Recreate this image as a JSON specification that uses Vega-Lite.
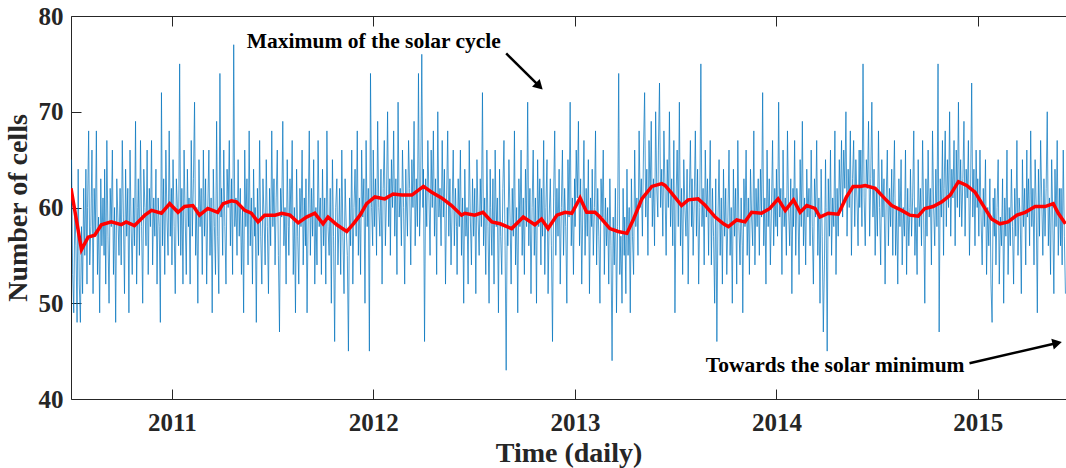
{
"$schema":"https://vega.github.io/schema/vega-lite/v6.json",
"width":995,"height":383,
"autosize":"none",
"padding":{"left":71,"top":16,"right":0,"bottom":69},
"background":"white",
"config":{
"view":{"stroke":"#262626","strokeWidth":1},
"axis":{"grid":false,"domain":false,"tickColor":"#262626","tickWidth":1,"tickSize":-10,"labelFont":"Liberation Serif","labelFontWeight":"bold","labelFontSize":25,"labelColor":"#262626","titleFont":"Liberation Serif","titleFontWeight":"bold","titleFontSize":28,"titleColor":"#262626"}
},
"resolve":{"axis":{"x":"independent","y":"independent"}},
"layer":[
{
"data":{"values":[
{"d":"2010-07-03","v":65},{"d":"2010-07-05","v":53},{"d":"2010-07-07","v":49},{"d":"2010-07-09","v":60},{"d":"2010-07-11","v":56},{"d":"2010-07-13","v":48},{"d":"2010-07-15","v":64},{"d":"2010-07-17","v":52},{"d":"2010-07-19","v":48},{"d":"2010-07-21","v":58},{"d":"2010-07-23","v":51},{"d":"2010-07-25","v":62},{"d":"2010-07-27","v":55},{"d":"2010-07-29","v":64},{"d":"2010-07-31","v":52},
{"d":"2010-08-01","v":60},{"d":"2010-08-03","v":68},{"d":"2010-08-05","v":54},{"d":"2010-08-07","v":58},{"d":"2010-08-09","v":66},{"d":"2010-08-11","v":51},{"d":"2010-08-13","v":62},{"d":"2010-08-15","v":57},{"d":"2010-08-17","v":68},{"d":"2010-08-19","v":53},{"d":"2010-08-21","v":59},{"d":"2010-08-23","v":49},{"d":"2010-08-25","v":63},{"d":"2010-08-27","v":56},{"d":"2010-08-29","v":61},{"d":"2010-08-31","v":55},
{"d":"2010-09-01","v":64},{"d":"2010-09-03","v":52},{"d":"2010-09-05","v":67},{"d":"2010-09-07","v":57},{"d":"2010-09-09","v":50},{"d":"2010-09-11","v":62},{"d":"2010-09-13","v":58},{"d":"2010-09-15","v":66},{"d":"2010-09-17","v":53},{"d":"2010-09-19","v":60},{"d":"2010-09-21","v":48},{"d":"2010-09-23","v":63},{"d":"2010-09-25","v":59},{"d":"2010-09-27","v":55},{"d":"2010-09-29","v":62},
{"d":"2010-10-01","v":54},{"d":"2010-10-03","v":67},{"d":"2010-10-05","v":59},{"d":"2010-10-07","v":51},{"d":"2010-10-09","v":64},{"d":"2010-10-11","v":57},{"d":"2010-10-13","v":62},{"d":"2010-10-15","v":49},{"d":"2010-10-17","v":66},{"d":"2010-10-19","v":58},{"d":"2010-10-21","v":53},{"d":"2010-10-23","v":61},{"d":"2010-10-25","v":56},{"d":"2010-10-27","v":69},{"d":"2010-10-29","v":52},{"d":"2010-10-31","v":60},
{"d":"2010-11-01","v":63},{"d":"2010-11-03","v":55},{"d":"2010-11-05","v":67},{"d":"2010-11-07","v":58},{"d":"2010-11-09","v":50},{"d":"2010-11-11","v":64},{"d":"2010-11-13","v":60},{"d":"2010-11-15","v":56},{"d":"2010-11-17","v":66},{"d":"2010-11-19","v":53},{"d":"2010-11-21","v":62},{"d":"2010-11-23","v":58},{"d":"2010-11-25","v":67},{"d":"2010-11-27","v":54},{"d":"2010-11-29","v":61},
{"d":"2010-12-01","v":57},{"d":"2010-12-03","v":64},{"d":"2010-12-05","v":52},{"d":"2010-12-07","v":61},{"d":"2010-12-09","v":58},{"d":"2010-12-11","v":48},{"d":"2010-12-13","v":72},{"d":"2010-12-15","v":56},{"d":"2010-12-17","v":63},{"d":"2010-12-19","v":53},{"d":"2010-12-21","v":66},{"d":"2010-12-23","v":59},{"d":"2010-12-25","v":55},{"d":"2010-12-27","v":68},{"d":"2010-12-29","v":57},{"d":"2010-12-31","v":62},
{"d":"2011-01-01","v":54},{"d":"2011-01-03","v":65},{"d":"2011-01-05","v":58},{"d":"2011-01-07","v":51},{"d":"2011-01-09","v":63},{"d":"2011-01-11","v":60},{"d":"2011-01-13","v":56},{"d":"2011-01-15","v":75},{"d":"2011-01-17","v":55},{"d":"2011-01-19","v":62},{"d":"2011-01-21","v":52},{"d":"2011-01-23","v":66},{"d":"2011-01-25","v":59},{"d":"2011-01-27","v":53},{"d":"2011-01-29","v":64},{"d":"2011-01-31","v":58},
{"d":"2011-02-01","v":61},{"d":"2011-02-03","v":52},{"d":"2011-02-05","v":67},{"d":"2011-02-07","v":57},{"d":"2011-02-09","v":63},{"d":"2011-02-11","v":71},{"d":"2011-02-13","v":55},{"d":"2011-02-15","v":60},{"d":"2011-02-17","v":50},{"d":"2011-02-19","v":65},{"d":"2011-02-21","v":58},{"d":"2011-02-23","v":62},{"d":"2011-02-25","v":53},{"d":"2011-02-27","v":66},
{"d":"2011-03-01","v":57},{"d":"2011-03-03","v":63},{"d":"2011-03-05","v":52},{"d":"2011-03-07","v":60},{"d":"2011-03-09","v":66},{"d":"2011-03-11","v":55},{"d":"2011-03-13","v":61},{"d":"2011-03-15","v":49},{"d":"2011-03-17","v":64},{"d":"2011-03-19","v":58},{"d":"2011-03-21","v":53},{"d":"2011-03-23","v":69},{"d":"2011-03-25","v":57},{"d":"2011-03-27","v":51},{"d":"2011-03-29","v":74},{"d":"2011-03-31","v":59},
{"d":"2011-04-01","v":62},{"d":"2011-04-03","v":55},{"d":"2011-04-05","v":66},{"d":"2011-04-07","v":58},{"d":"2011-04-09","v":52},{"d":"2011-04-11","v":64},{"d":"2011-04-13","v":60},{"d":"2011-04-15","v":67},{"d":"2011-04-17","v":56},{"d":"2011-04-19","v":63},{"d":"2011-04-21","v":53},{"d":"2011-04-23","v":77},{"d":"2011-04-25","v":58},{"d":"2011-04-27","v":61},{"d":"2011-04-29","v":55},
{"d":"2011-05-01","v":65},{"d":"2011-05-03","v":57},{"d":"2011-05-05","v":62},{"d":"2011-05-07","v":53},{"d":"2011-05-09","v":60},{"d":"2011-05-11","v":49},{"d":"2011-05-13","v":66},{"d":"2011-05-15","v":58},{"d":"2011-05-17","v":63},{"d":"2011-05-19","v":54},{"d":"2011-05-21","v":68},{"d":"2011-05-23","v":56},{"d":"2011-05-25","v":61},{"d":"2011-05-27","v":52},{"d":"2011-05-29","v":64},{"d":"2011-05-31","v":57},
{"d":"2011-06-01","v":60},{"d":"2011-06-03","v":48},{"d":"2011-06-05","v":62},{"d":"2011-06-07","v":55},{"d":"2011-06-09","v":67},{"d":"2011-06-11","v":57},{"d":"2011-06-13","v":52},{"d":"2011-06-15","v":63},{"d":"2011-06-17","v":59},{"d":"2011-06-19","v":54},{"d":"2011-06-21","v":65},{"d":"2011-06-23","v":58},{"d":"2011-06-25","v":51},{"d":"2011-06-27","v":62},{"d":"2011-06-29","v":56},
{"d":"2011-07-01","v":68},{"d":"2011-07-03","v":58},{"d":"2011-07-05","v":63},{"d":"2011-07-07","v":54},{"d":"2011-07-09","v":61},{"d":"2011-07-11","v":66},{"d":"2011-07-13","v":55},{"d":"2011-07-15","v":47},{"d":"2011-07-17","v":62},{"d":"2011-07-19","v":59},{"d":"2011-07-21","v":69},{"d":"2011-07-23","v":56},{"d":"2011-07-25","v":60},{"d":"2011-07-27","v":52},{"d":"2011-07-29","v":65},{"d":"2011-07-31","v":58},
{"d":"2011-08-01","v":55},{"d":"2011-08-03","v":63},{"d":"2011-08-05","v":59},{"d":"2011-08-07","v":67},{"d":"2011-08-09","v":53},{"d":"2011-08-11","v":60},{"d":"2011-08-13","v":49},{"d":"2011-08-15","v":64},{"d":"2011-08-17","v":57},{"d":"2011-08-19","v":52},{"d":"2011-08-21","v":62},{"d":"2011-08-23","v":58},{"d":"2011-08-25","v":66},{"d":"2011-08-27","v":54},{"d":"2011-08-29","v":61},{"d":"2011-08-31","v":56},
{"d":"2011-09-01","v":63},{"d":"2011-09-03","v":49},{"d":"2011-09-05","v":59},{"d":"2011-09-07","v":68},{"d":"2011-09-09","v":55},{"d":"2011-09-11","v":62},{"d":"2011-09-13","v":57},{"d":"2011-09-15","v":65},{"d":"2011-09-17","v":52},{"d":"2011-09-19","v":60},{"d":"2011-09-21","v":54},{"d":"2011-09-23","v":67},{"d":"2011-09-25","v":58},{"d":"2011-09-27","v":61},{"d":"2011-09-29","v":53},
{"d":"2011-10-01","v":64},{"d":"2011-10-03","v":56},{"d":"2011-10-05","v":61},{"d":"2011-10-07","v":52},{"d":"2011-10-09","v":68},{"d":"2011-10-11","v":58},{"d":"2011-10-13","v":55},{"d":"2011-10-15","v":62},{"d":"2011-10-17","v":50},{"d":"2011-10-19","v":65},{"d":"2011-10-21","v":57},{"d":"2011-10-23","v":46},{"d":"2011-10-25","v":60},{"d":"2011-10-27","v":63},{"d":"2011-10-29","v":54},{"d":"2011-10-31","v":59},
{"d":"2011-11-01","v":62},{"d":"2011-11-03","v":53},{"d":"2011-11-05","v":66},{"d":"2011-11-07","v":57},{"d":"2011-11-09","v":51},{"d":"2011-11-11","v":63},{"d":"2011-11-13","v":58},{"d":"2011-11-15","v":55},{"d":"2011-11-17","v":45},{"d":"2011-11-19","v":61},{"d":"2011-11-21","v":56},{"d":"2011-11-23","v":66},{"d":"2011-11-25","v":52},{"d":"2011-11-27","v":60},{"d":"2011-11-29","v":64},
{"d":"2011-12-01","v":57},{"d":"2011-12-03","v":68},{"d":"2011-12-05","v":55},{"d":"2011-12-07","v":61},{"d":"2011-12-09","v":53},{"d":"2011-12-11","v":66},{"d":"2011-12-13","v":59},{"d":"2011-12-15","v":63},{"d":"2011-12-17","v":50},{"d":"2011-12-19","v":67},{"d":"2011-12-21","v":58},{"d":"2011-12-23","v":62},{"d":"2011-12-25","v":45},{"d":"2011-12-27","v":74},{"d":"2011-12-29","v":60},{"d":"2011-12-31","v":56},
{"d":"2012-01-01","v":66},{"d":"2012-01-03","v":58},{"d":"2012-01-05","v":63},{"d":"2012-01-07","v":55},{"d":"2012-01-09","v":69},{"d":"2012-01-11","v":60},{"d":"2012-01-13","v":57},{"d":"2012-01-15","v":64},{"d":"2012-01-17","v":52},{"d":"2012-01-19","v":62},{"d":"2012-01-21","v":67},{"d":"2012-01-23","v":56},{"d":"2012-01-25","v":61},{"d":"2012-01-27","v":70},{"d":"2012-01-29","v":58},{"d":"2012-01-31","v":63},
{"d":"2012-02-01","v":55},{"d":"2012-02-03","v":65},{"d":"2012-02-05","v":60},{"d":"2012-02-07","v":68},{"d":"2012-02-09","v":57},{"d":"2012-02-11","v":63},{"d":"2012-02-13","v":53},{"d":"2012-02-15","v":71},{"d":"2012-02-17","v":59},{"d":"2012-02-19","v":62},{"d":"2012-02-21","v":56},{"d":"2012-02-23","v":66},{"d":"2012-02-25","v":60},{"d":"2012-02-27","v":52},{"d":"2012-02-29","v":64},
{"d":"2012-03-01","v":61},{"d":"2012-03-03","v":57},{"d":"2012-03-05","v":67},{"d":"2012-03-07","v":62},{"d":"2012-03-09","v":54},{"d":"2012-03-11","v":65},{"d":"2012-03-13","v":60},{"d":"2012-03-15","v":69},{"d":"2012-03-17","v":56},{"d":"2012-03-19","v":63},{"d":"2012-03-21","v":58},{"d":"2012-03-23","v":74},{"d":"2012-03-25","v":57},{"d":"2012-03-27","v":62},{"d":"2012-03-29","v":76},{"d":"2012-03-31","v":60},
{"d":"2012-04-01","v":64},{"d":"2012-04-03","v":46},{"d":"2012-04-05","v":63},{"d":"2012-04-07","v":58},{"d":"2012-04-09","v":67},{"d":"2012-04-11","v":61},{"d":"2012-04-13","v":55},{"d":"2012-04-15","v":66},{"d":"2012-04-17","v":60},{"d":"2012-04-19","v":68},{"d":"2012-04-21","v":57},{"d":"2012-04-23","v":63},{"d":"2012-04-25","v":53},{"d":"2012-04-27","v":70},{"d":"2012-04-29","v":59},
{"d":"2012-05-01","v":62},{"d":"2012-05-03","v":56},{"d":"2012-05-05","v":67},{"d":"2012-05-07","v":59},{"d":"2012-05-09","v":64},{"d":"2012-05-11","v":52},{"d":"2012-05-13","v":61},{"d":"2012-05-15","v":68},{"d":"2012-05-17","v":57},{"d":"2012-05-19","v":63},{"d":"2012-05-21","v":54},{"d":"2012-05-23","v":60},{"d":"2012-05-25","v":66},{"d":"2012-05-27","v":56},{"d":"2012-05-29","v":62},{"d":"2012-05-31","v":58},
{"d":"2012-06-01","v":53},{"d":"2012-06-03","v":63},{"d":"2012-06-05","v":58},{"d":"2012-06-07","v":66},{"d":"2012-06-09","v":55},{"d":"2012-06-11","v":61},{"d":"2012-06-13","v":50},{"d":"2012-06-15","v":64},{"d":"2012-06-17","v":57},{"d":"2012-06-19","v":60},{"d":"2012-06-21","v":52},{"d":"2012-06-23","v":67},{"d":"2012-06-25","v":59},{"d":"2012-06-27","v":54},{"d":"2012-06-29","v":63},
{"d":"2012-07-01","v":57},{"d":"2012-07-03","v":62},{"d":"2012-07-05","v":51},{"d":"2012-07-07","v":65},{"d":"2012-07-09","v":59},{"d":"2012-07-11","v":55},{"d":"2012-07-13","v":63},{"d":"2012-07-15","v":58},{"d":"2012-07-17","v":72},{"d":"2012-07-19","v":56},{"d":"2012-07-21","v":61},{"d":"2012-07-23","v":53},{"d":"2012-07-25","v":66},{"d":"2012-07-27","v":58},{"d":"2012-07-29","v":50},{"d":"2012-07-31","v":64},
{"d":"2012-08-01","v":60},{"d":"2012-08-03","v":55},{"d":"2012-08-05","v":63},{"d":"2012-08-07","v":52},{"d":"2012-08-09","v":66},{"d":"2012-08-11","v":58},{"d":"2012-08-13","v":61},{"d":"2012-08-15","v":49},{"d":"2012-08-17","v":64},{"d":"2012-08-19","v":57},{"d":"2012-08-21","v":53},{"d":"2012-08-23","v":62},{"d":"2012-08-25","v":67},{"d":"2012-08-27","v":56},{"d":"2012-08-29","v":43},{"d":"2012-08-31","v":60},
{"d":"2012-09-01","v":56},{"d":"2012-09-03","v":65},{"d":"2012-09-05","v":59},{"d":"2012-09-07","v":52},{"d":"2012-09-09","v":62},{"d":"2012-09-11","v":57},{"d":"2012-09-13","v":68},{"d":"2012-09-15","v":54},{"d":"2012-09-17","v":60},{"d":"2012-09-19","v":49},{"d":"2012-09-21","v":63},{"d":"2012-09-23","v":58},{"d":"2012-09-25","v":66},{"d":"2012-09-27","v":55},{"d":"2012-09-29","v":61},
{"d":"2012-10-01","v":53},{"d":"2012-10-03","v":64},{"d":"2012-10-05","v":58},{"d":"2012-10-07","v":71},{"d":"2012-10-09","v":56},{"d":"2012-10-11","v":62},{"d":"2012-10-13","v":51},{"d":"2012-10-15","v":60},{"d":"2012-10-17","v":66},{"d":"2012-10-19","v":55},{"d":"2012-10-21","v":61},{"d":"2012-10-23","v":50},{"d":"2012-10-25","v":65},{"d":"2012-10-27","v":58},{"d":"2012-10-29","v":63},{"d":"2012-10-31","v":54},
{"d":"2012-11-01","v":62},{"d":"2012-11-03","v":57},{"d":"2012-11-05","v":67},{"d":"2012-11-07","v":53},{"d":"2012-11-09","v":60},{"d":"2012-11-11","v":65},{"d":"2012-11-13","v":51},{"d":"2012-11-15","v":59},{"d":"2012-11-17","v":63},{"d":"2012-11-19","v":56},{"d":"2012-11-21","v":46},{"d":"2012-11-23","v":61},{"d":"2012-11-25","v":68},{"d":"2012-11-27","v":55},{"d":"2012-11-29","v":62},
{"d":"2012-12-01","v":57},{"d":"2012-12-03","v":64},{"d":"2012-12-05","v":52},{"d":"2012-12-07","v":60},{"d":"2012-12-09","v":66},{"d":"2012-12-11","v":55},{"d":"2012-12-13","v":62},{"d":"2012-12-15","v":58},{"d":"2012-12-17","v":50},{"d":"2012-12-19","v":65},{"d":"2012-12-21","v":59},{"d":"2012-12-23","v":71},{"d":"2012-12-25","v":56},{"d":"2012-12-27","v":61},{"d":"2012-12-29","v":53},{"d":"2012-12-31","v":63},
{"d":"2013-01-01","v":58},{"d":"2013-01-03","v":66},{"d":"2013-01-05","v":61},{"d":"2013-01-07","v":69},{"d":"2013-01-09","v":56},{"d":"2013-01-11","v":63},{"d":"2013-01-13","v":52},{"d":"2013-01-15","v":60},{"d":"2013-01-17","v":67},{"d":"2013-01-19","v":55},{"d":"2013-01-21","v":62},{"d":"2013-01-23","v":57},{"d":"2013-01-25","v":65},{"d":"2013-01-27","v":51},{"d":"2013-01-29","v":61},{"d":"2013-01-31","v":58},
{"d":"2013-02-01","v":64},{"d":"2013-02-03","v":55},{"d":"2013-02-05","v":60},{"d":"2013-02-07","v":68},{"d":"2013-02-09","v":54},{"d":"2013-02-11","v":62},{"d":"2013-02-13","v":57},{"d":"2013-02-15","v":50},{"d":"2013-02-17","v":63},{"d":"2013-02-19","v":59},{"d":"2013-02-21","v":66},{"d":"2013-02-23","v":53},{"d":"2013-02-25","v":61},{"d":"2013-02-27","v":56},
{"d":"2013-03-01","v":60},{"d":"2013-03-03","v":52},{"d":"2013-03-05","v":63},{"d":"2013-03-07","v":56},{"d":"2013-03-09","v":44},{"d":"2013-03-11","v":59},{"d":"2013-03-13","v":54},{"d":"2013-03-15","v":62},{"d":"2013-03-17","v":49},{"d":"2013-03-19","v":58},{"d":"2013-03-21","v":74},{"d":"2013-03-23","v":53},{"d":"2013-03-25","v":57},{"d":"2013-03-27","v":50},{"d":"2013-03-29","v":62},{"d":"2013-03-31","v":55},
{"d":"2013-04-01","v":59},{"d":"2013-04-03","v":51},{"d":"2013-04-05","v":64},{"d":"2013-04-07","v":55},{"d":"2013-04-09","v":60},{"d":"2013-04-11","v":49},{"d":"2013-04-13","v":63},{"d":"2013-04-15","v":57},{"d":"2013-04-17","v":53},{"d":"2013-04-19","v":66},{"d":"2013-04-21","v":58},{"d":"2013-04-23","v":61},{"d":"2013-04-25","v":55},{"d":"2013-04-27","v":68},{"d":"2013-04-29","v":60},
{"d":"2013-05-01","v":63},{"d":"2013-05-03","v":57},{"d":"2013-05-05","v":66},{"d":"2013-05-07","v":72},{"d":"2013-05-09","v":59},{"d":"2013-05-11","v":64},{"d":"2013-05-13","v":55},{"d":"2013-05-15","v":67},{"d":"2013-05-17","v":61},{"d":"2013-05-19","v":69},{"d":"2013-05-21","v":58},{"d":"2013-05-23","v":63},{"d":"2013-05-25","v":56},{"d":"2013-05-27","v":70},{"d":"2013-05-29","v":62},{"d":"2013-05-31","v":59},
{"d":"2013-06-01","v":66},{"d":"2013-06-03","v":73},{"d":"2013-06-05","v":60},{"d":"2013-06-07","v":64},{"d":"2013-06-09","v":57},{"d":"2013-06-11","v":68},{"d":"2013-06-13","v":62},{"d":"2013-06-15","v":55},{"d":"2013-06-17","v":65},{"d":"2013-06-19","v":60},{"d":"2013-06-21","v":70},{"d":"2013-06-23","v":58},{"d":"2013-06-25","v":63},{"d":"2013-06-27","v":56},{"d":"2013-06-29","v":67},
{"d":"2013-07-01","v":49},{"d":"2013-07-03","v":61},{"d":"2013-07-05","v":66},{"d":"2013-07-07","v":58},{"d":"2013-07-09","v":71},{"d":"2013-07-11","v":56},{"d":"2013-07-13","v":62},{"d":"2013-07-15","v":53},{"d":"2013-07-17","v":65},{"d":"2013-07-19","v":60},{"d":"2013-07-21","v":57},{"d":"2013-07-23","v":64},{"d":"2013-07-25","v":52},{"d":"2013-07-27","v":61},{"d":"2013-07-29","v":67},{"d":"2013-07-31","v":58},
{"d":"2013-08-01","v":63},{"d":"2013-08-03","v":55},{"d":"2013-08-05","v":61},{"d":"2013-08-07","v":68},{"d":"2013-08-09","v":57},{"d":"2013-08-11","v":64},{"d":"2013-08-13","v":52},{"d":"2013-08-15","v":60},{"d":"2013-08-17","v":75},{"d":"2013-08-19","v":58},{"d":"2013-08-21","v":62},{"d":"2013-08-23","v":54},{"d":"2013-08-25","v":66},{"d":"2013-08-27","v":59},{"d":"2013-08-29","v":63},{"d":"2013-08-31","v":55},
{"d":"2013-09-01","v":60},{"d":"2013-09-03","v":67},{"d":"2013-09-05","v":54},{"d":"2013-09-07","v":62},{"d":"2013-09-09","v":57},{"d":"2013-09-11","v":50},{"d":"2013-09-13","v":63},{"d":"2013-09-15","v":46},{"d":"2013-09-17","v":59},{"d":"2013-09-19","v":65},{"d":"2013-09-21","v":55},{"d":"2013-09-23","v":61},{"d":"2013-09-25","v":52},{"d":"2013-09-27","v":64},{"d":"2013-09-29","v":57},
{"d":"2013-10-01","v":62},{"d":"2013-10-03","v":53},{"d":"2013-10-05","v":59},{"d":"2013-10-07","v":66},{"d":"2013-10-09","v":55},{"d":"2013-10-11","v":60},{"d":"2013-10-13","v":50},{"d":"2013-10-15","v":64},{"d":"2013-10-17","v":57},{"d":"2013-10-19","v":62},{"d":"2013-10-21","v":52},{"d":"2013-10-23","v":67},{"d":"2013-10-25","v":58},{"d":"2013-10-27","v":54},{"d":"2013-10-29","v":61},{"d":"2013-10-31","v":56},
{"d":"2013-11-01","v":49},{"d":"2013-11-03","v":63},{"d":"2013-11-05","v":58},{"d":"2013-11-07","v":66},{"d":"2013-11-09","v":55},{"d":"2013-11-11","v":61},{"d":"2013-11-13","v":53},{"d":"2013-11-15","v":64},{"d":"2013-11-17","v":59},{"d":"2013-11-19","v":56},{"d":"2013-11-21","v":68},{"d":"2013-11-23","v":54},{"d":"2013-11-25","v":62},{"d":"2013-11-27","v":58},{"d":"2013-11-29","v":63},
{"d":"2013-12-01","v":55},{"d":"2013-12-03","v":64},{"d":"2013-12-05","v":59},{"d":"2013-12-07","v":72},{"d":"2013-12-09","v":56},{"d":"2013-12-11","v":61},{"d":"2013-12-13","v":52},{"d":"2013-12-15","v":66},{"d":"2013-12-17","v":58},{"d":"2013-12-19","v":63},{"d":"2013-12-21","v":54},{"d":"2013-12-23","v":60},{"d":"2013-12-25","v":67},{"d":"2013-12-27","v":56},{"d":"2013-12-29","v":62},{"d":"2013-12-31","v":58},
{"d":"2014-01-01","v":64},{"d":"2014-01-03","v":57},{"d":"2014-01-05","v":71},{"d":"2014-01-07","v":59},{"d":"2014-01-09","v":62},{"d":"2014-01-11","v":53},{"d":"2014-01-13","v":66},{"d":"2014-01-15","v":58},{"d":"2014-01-17","v":61},{"d":"2014-01-19","v":55},{"d":"2014-01-21","v":68},{"d":"2014-01-23","v":60},{"d":"2014-01-25","v":56},{"d":"2014-01-27","v":63},{"d":"2014-01-29","v":51},{"d":"2014-01-31","v":62},
{"d":"2014-02-01","v":58},{"d":"2014-02-03","v":67},{"d":"2014-02-05","v":55},{"d":"2014-02-07","v":62},{"d":"2014-02-09","v":60},{"d":"2014-02-11","v":53},{"d":"2014-02-13","v":65},{"d":"2014-02-15","v":58},{"d":"2014-02-17","v":69},{"d":"2014-02-19","v":56},{"d":"2014-02-21","v":61},{"d":"2014-02-23","v":54},{"d":"2014-02-25","v":64},{"d":"2014-02-27","v":59},
{"d":"2014-03-01","v":62},{"d":"2014-03-03","v":56},{"d":"2014-03-05","v":66},{"d":"2014-03-07","v":58},{"d":"2014-03-09","v":52},{"d":"2014-03-11","v":63},{"d":"2014-03-13","v":59},{"d":"2014-03-15","v":67},{"d":"2014-03-17","v":55},{"d":"2014-03-19","v":61},{"d":"2014-03-21","v":50},{"d":"2014-03-23","v":64},{"d":"2014-03-25","v":57},{"d":"2014-03-27","v":47},{"d":"2014-03-29","v":54},{"d":"2014-03-31","v":65},
{"d":"2014-04-01","v":60},{"d":"2014-04-03","v":45},{"d":"2014-04-05","v":63},{"d":"2014-04-07","v":57},{"d":"2014-04-09","v":66},{"d":"2014-04-11","v":55},{"d":"2014-04-13","v":61},{"d":"2014-04-15","v":58},{"d":"2014-04-17","v":68},{"d":"2014-04-19","v":53},{"d":"2014-04-21","v":62},{"d":"2014-04-23","v":57},{"d":"2014-04-25","v":65},{"d":"2014-04-27","v":60},{"d":"2014-04-29","v":67},
{"d":"2014-05-01","v":59},{"d":"2014-05-03","v":66},{"d":"2014-05-05","v":62},{"d":"2014-05-07","v":70},{"d":"2014-05-09","v":57},{"d":"2014-05-11","v":64},{"d":"2014-05-13","v":60},{"d":"2014-05-15","v":68},{"d":"2014-05-17","v":55},{"d":"2014-05-19","v":63},{"d":"2014-05-21","v":67},{"d":"2014-05-23","v":58},{"d":"2014-05-25","v":65},{"d":"2014-05-27","v":61},{"d":"2014-05-29","v":56},{"d":"2014-05-31","v":66},
{"d":"2014-06-01","v":60},{"d":"2014-06-03","v":66},{"d":"2014-06-05","v":58},{"d":"2014-06-07","v":75},{"d":"2014-06-09","v":61},{"d":"2014-06-11","v":56},{"d":"2014-06-13","v":65},{"d":"2014-06-15","v":62},{"d":"2014-06-17","v":69},{"d":"2014-06-19","v":57},{"d":"2014-06-21","v":63},{"d":"2014-06-23","v":71},{"d":"2014-06-25","v":59},{"d":"2014-06-27","v":64},{"d":"2014-06-29","v":55},
{"d":"2014-07-01","v":62},{"d":"2014-07-03","v":57},{"d":"2014-07-05","v":68},{"d":"2014-07-07","v":60},{"d":"2014-07-09","v":54},{"d":"2014-07-11","v":65},{"d":"2014-07-13","v":59},{"d":"2014-07-15","v":63},{"d":"2014-07-17","v":52},{"d":"2014-07-19","v":61},{"d":"2014-07-21","v":66},{"d":"2014-07-23","v":56},{"d":"2014-07-25","v":62},{"d":"2014-07-27","v":58},{"d":"2014-07-29","v":64},{"d":"2014-07-31","v":55},
{"d":"2014-08-01","v":61},{"d":"2014-08-03","v":67},{"d":"2014-08-05","v":55},{"d":"2014-08-07","v":60},{"d":"2014-08-09","v":52},{"d":"2014-08-11","v":63},{"d":"2014-08-13","v":58},{"d":"2014-08-15","v":65},{"d":"2014-08-17","v":54},{"d":"2014-08-19","v":60},{"d":"2014-08-21","v":57},{"d":"2014-08-23","v":66},{"d":"2014-08-25","v":53},{"d":"2014-08-27","v":62},{"d":"2014-08-29","v":56},{"d":"2014-08-31","v":60},
{"d":"2014-09-01","v":64},{"d":"2014-09-03","v":57},{"d":"2014-09-05","v":61},{"d":"2014-09-07","v":68},{"d":"2014-09-09","v":55},{"d":"2014-09-11","v":60},{"d":"2014-09-13","v":53},{"d":"2014-09-15","v":65},{"d":"2014-09-17","v":58},{"d":"2014-09-19","v":62},{"d":"2014-09-21","v":56},{"d":"2014-09-23","v":67},{"d":"2014-09-25","v":59},{"d":"2014-09-27","v":50},{"d":"2014-09-29","v":63},
{"d":"2014-10-01","v":57},{"d":"2014-10-03","v":66},{"d":"2014-10-05","v":59},{"d":"2014-10-07","v":62},{"d":"2014-10-09","v":54},{"d":"2014-10-11","v":68},{"d":"2014-10-13","v":60},{"d":"2014-10-15","v":56},{"d":"2014-10-17","v":64},{"d":"2014-10-19","v":58},{"d":"2014-10-21","v":75},{"d":"2014-10-23","v":47},{"d":"2014-10-25","v":63},{"d":"2014-10-27","v":59},{"d":"2014-10-29","v":67},{"d":"2014-10-31","v":55},
{"d":"2014-11-01","v":62},{"d":"2014-11-03","v":68},{"d":"2014-11-05","v":58},{"d":"2014-11-07","v":65},{"d":"2014-11-09","v":60},{"d":"2014-11-11","v":70},{"d":"2014-11-13","v":57},{"d":"2014-11-15","v":64},{"d":"2014-11-17","v":61},{"d":"2014-11-19","v":67},{"d":"2014-11-21","v":56},{"d":"2014-11-23","v":66},{"d":"2014-11-25","v":60},{"d":"2014-11-27","v":71},{"d":"2014-11-29","v":59},
{"d":"2014-12-01","v":65},{"d":"2014-12-03","v":58},{"d":"2014-12-05","v":63},{"d":"2014-12-07","v":69},{"d":"2014-12-09","v":57},{"d":"2014-12-11","v":64},{"d":"2014-12-13","v":61},{"d":"2014-12-15","v":67},{"d":"2014-12-17","v":55},{"d":"2014-12-19","v":62},{"d":"2014-12-21","v":73},{"d":"2014-12-23","v":59},{"d":"2014-12-25","v":64},{"d":"2014-12-27","v":56},{"d":"2014-12-29","v":66},{"d":"2014-12-31","v":60},
{"d":"2015-01-01","v":63},{"d":"2015-01-03","v":57},{"d":"2015-01-05","v":66},{"d":"2015-01-07","v":59},{"d":"2015-01-09","v":54},{"d":"2015-01-11","v":62},{"d":"2015-01-13","v":58},{"d":"2015-01-15","v":65},{"d":"2015-01-17","v":53},{"d":"2015-01-19","v":60},{"d":"2015-01-21","v":56},{"d":"2015-01-23","v":63},{"d":"2015-01-25","v":52},{"d":"2015-01-27","v":48},{"d":"2015-01-29","v":61},{"d":"2015-01-31","v":57},
{"d":"2015-02-01","v":62},{"d":"2015-02-03","v":54},{"d":"2015-02-05","v":60},{"d":"2015-02-07","v":65},{"d":"2015-02-09","v":52},{"d":"2015-02-11","v":59},{"d":"2015-02-13","v":56},{"d":"2015-02-15","v":63},{"d":"2015-02-17","v":50},{"d":"2015-02-19","v":61},{"d":"2015-02-21","v":57},{"d":"2015-02-23","v":66},{"d":"2015-02-25","v":53},{"d":"2015-02-27","v":60},
{"d":"2015-03-01","v":56},{"d":"2015-03-03","v":64},{"d":"2015-03-05","v":58},{"d":"2015-03-07","v":52},{"d":"2015-03-09","v":62},{"d":"2015-03-11","v":57},{"d":"2015-03-13","v":67},{"d":"2015-03-15","v":55},{"d":"2015-03-17","v":61},{"d":"2015-03-19","v":59},{"d":"2015-03-21","v":51},{"d":"2015-03-23","v":65},{"d":"2015-03-25","v":58},{"d":"2015-03-27","v":62},{"d":"2015-03-29","v":54},{"d":"2015-03-31","v":66},
{"d":"2015-04-01","v":59},{"d":"2015-04-03","v":63},{"d":"2015-04-05","v":56},{"d":"2015-04-07","v":68},{"d":"2015-04-09","v":58},{"d":"2015-04-11","v":62},{"d":"2015-04-13","v":54},{"d":"2015-04-15","v":65},{"d":"2015-04-17","v":60},{"d":"2015-04-19","v":49},{"d":"2015-04-21","v":64},{"d":"2015-04-23","v":57},{"d":"2015-04-25","v":67},{"d":"2015-04-27","v":61},{"d":"2015-04-29","v":55},
{"d":"2015-05-01","v":63},{"d":"2015-05-03","v":57},{"d":"2015-05-05","v":62},{"d":"2015-05-07","v":70},{"d":"2015-05-09","v":56},{"d":"2015-05-11","v":61},{"d":"2015-05-13","v":53},{"d":"2015-05-15","v":65},{"d":"2015-05-17","v":59},{"d":"2015-05-19","v":51},{"d":"2015-05-21","v":64},{"d":"2015-05-23","v":58},{"d":"2015-05-25","v":67},{"d":"2015-05-27","v":55},{"d":"2015-05-29","v":62},{"d":"2015-05-31","v":56},
{"d":"2015-06-01","v":62},{"d":"2015-06-03","v":54},{"d":"2015-06-05","v":66},{"d":"2015-06-07","v":57},{"d":"2015-06-09","v":51}
]},
"mark":{"type":"line","color":"#0072BD","strokeWidth":0.7,"clip":true},
"encoding":{
"x":{"field":"d","type":"temporal","scale":{"domain":[{"year":2010,"month":7,"date":2},{"year":2015,"month":6,"date":10}]},
"axis":{"orient":"bottom","values":[{"year":2011,"month":1,"date":1},{"year":2012,"month":1,"date":1},{"year":2013,"month":1,"date":1},{"year":2014,"month":1,"date":1},{"year":2015,"month":1,"date":1}],"format":"%Y","labelPadding":21,"title":"Time (daily)","titlePadding":4}},
"y":{"field":"v","type":"quantitative","scale":{"domain":[40,80],"nice":false,"zero":false},
"axis":{"orient":"left","values":[40,50,60,70,80],"labelPadding":18,"title":"Number of cells","titlePadding":6}}
}
},
{
"data":{"values":[
{"d":"2010-07-02","v":62.0},{"d":"2010-07-21","v":55.6},{"d":"2010-08-02","v":56.9},{"d":"2010-08-14","v":57.1},{"d":"2010-08-26","v":58.2},{"d":"2010-09-13","v":58.5},{"d":"2010-10-01","v":58.2},{"d":"2010-10-10","v":58.5},{"d":"2010-10-25","v":58.1},{"d":"2010-11-13","v":59.2},{"d":"2010-11-25","v":59.7},{"d":"2010-12-13","v":59.4},{"d":"2010-12-28","v":60.4},
{"d":"2011-01-12","v":59.5},{"d":"2011-01-24","v":60.1},{"d":"2011-02-08","v":60.2},{"d":"2011-02-20","v":59.2},{"d":"2011-03-07","v":59.9},{"d":"2011-03-25","v":59.5},{"d":"2011-04-04","v":60.4},{"d":"2011-04-19","v":60.7},{"d":"2011-04-28","v":60.6},{"d":"2011-05-13","v":59.7},{"d":"2011-05-25","v":59.4},{"d":"2011-06-06","v":58.5},{"d":"2011-06-18","v":59.2},{"d":"2011-07-07","v":59.2},{"d":"2011-07-19","v":59.4},{"d":"2011-08-03","v":59.2},{"d":"2011-08-18","v":58.4},{"d":"2011-09-02","v":59.0},{"d":"2011-09-17","v":59.4},{"d":"2011-10-02","v":58.3},{"d":"2011-10-11","v":59.0},{"d":"2011-10-27","v":58.2},{"d":"2011-11-14","v":57.5},{"d":"2011-11-26","v":58.3},{"d":"2011-12-08","v":59.2},{"d":"2011-12-20","v":60.4},
{"d":"2012-01-04","v":61.1},{"d":"2012-01-22","v":60.9},{"d":"2012-02-06","v":61.4},{"d":"2012-02-22","v":61.3},{"d":"2012-03-11","v":61.3},{"d":"2012-04-01","v":62.2},{"d":"2012-04-16","v":61.6},{"d":"2012-05-04","v":61.0},{"d":"2012-05-22","v":60.2},{"d":"2012-06-09","v":59.2},{"d":"2012-06-15","v":59.4},{"d":"2012-07-03","v":59.2},{"d":"2012-07-18","v":59.5},{"d":"2012-08-03","v":58.5},{"d":"2012-08-18","v":58.3},{"d":"2012-09-08","v":57.8},{"d":"2012-09-29","v":59.0},{"d":"2012-10-20","v":58.2},{"d":"2012-11-01","v":58.8},{"d":"2012-11-13","v":57.8},{"d":"2012-11-29","v":59.2},{"d":"2012-12-14","v":59.5},{"d":"2012-12-26","v":59.4},
{"d":"2013-01-10","v":61.0},{"d":"2013-01-22","v":59.5},{"d":"2013-02-06","v":59.5},{"d":"2013-02-15","v":59.0},{"d":"2013-03-05","v":57.8},{"d":"2013-03-20","v":57.5},{"d":"2013-04-05","v":57.3},{"d":"2013-04-17","v":58.8},{"d":"2013-05-02","v":60.9},{"d":"2013-05-20","v":62.2},{"d":"2013-06-07","v":62.5},{"d":"2013-06-13","v":62.3},{"d":"2013-06-25","v":61.5},{"d":"2013-07-13","v":60.2},{"d":"2013-07-25","v":60.8},{"d":"2013-08-12","v":60.9},{"d":"2013-08-25","v":60.2},{"d":"2013-09-12","v":59.0},{"d":"2013-09-27","v":58.3},{"d":"2013-10-06","v":58.0},{"d":"2013-10-21","v":58.7},{"d":"2013-11-05","v":58.5},{"d":"2013-11-17","v":59.5},{"d":"2013-12-05","v":59.4},{"d":"2013-12-20","v":59.9},
{"d":"2014-01-04","v":60.9},{"d":"2014-01-17","v":59.7},{"d":"2014-02-01","v":60.8},{"d":"2014-02-13","v":59.5},{"d":"2014-02-25","v":60.2},{"d":"2014-03-12","v":59.9},{"d":"2014-03-21","v":59.0},{"d":"2014-04-05","v":59.4},{"d":"2014-04-23","v":59.3},{"d":"2014-05-08","v":61.1},{"d":"2014-05-20","v":62.2},{"d":"2014-06-02","v":62.2},{"d":"2014-06-11","v":62.3},{"d":"2014-06-29","v":62.0},{"d":"2014-07-17","v":60.9},{"d":"2014-07-29","v":60.2},{"d":"2014-08-16","v":59.7},{"d":"2014-08-31","v":59.2},{"d":"2014-09-15","v":59.1},{"d":"2014-09-27","v":59.9},{"d":"2014-10-12","v":60.1},{"d":"2014-10-28","v":60.6},{"d":"2014-11-12","v":61.3},{"d":"2014-11-27","v":62.7},{"d":"2014-12-12","v":62.3},{"d":"2014-12-27","v":61.6},
{"d":"2015-01-11","v":60.2},{"d":"2015-01-26","v":58.8},{"d":"2015-02-10","v":58.3},{"d":"2015-02-25","v":58.5},{"d":"2015-03-13","v":59.2},{"d":"2015-03-28","v":59.5},{"d":"2015-04-15","v":60.1},{"d":"2015-05-03","v":60.1},{"d":"2015-05-18","v":60.4},{"d":"2015-05-27","v":59.4},{"d":"2015-06-09","v":58.3}
]},
"mark":{"type":"line","color":"#FF0000","strokeWidth":3.5,"clip":true},
"encoding":{
"x":{"field":"d","type":"temporal","axis":{"orient":"top","values":[{"year":2011,"month":1,"date":1},{"year":2012,"month":1,"date":1},{"year":2013,"month":1,"date":1},{"year":2014,"month":1,"date":1},{"year":2015,"month":1,"date":1}],"labels":false,"title":null}},
"y":{"field":"v","type":"quantitative","axis":null}
}
},
{
"data":{"values":[
{"a":"2012-08-29","ay":76.1,"b":"2012-10-28","by":72.67},
{"a":"2014-12-17","ay":43.73,"b":"2015-05-25","by":45.85}
],"format":{"parse":{"a":"date","b":"date"}}},
"mark":{"type":"rule","color":"#000000","strokeWidth":2.5},
"encoding":{
"x":{"field":"a","type":"temporal","axis":null},
"x2":{"field":"b"},
"y":{"field":"ay","type":"quantitative","axis":null},
"y2":{"field":"by"}
}
},
{
"data":{"values":[{"d":"2012-10-28","v":72.67}]},
"mark":{"type":"point","shape":"triangle-right","angle":44.5,"size":120,"filled":true,"color":"#000000","opacity":1},
"encoding":{
"x":{"field":"d","type":"temporal","axis":null},
"y":{"field":"v","type":"quantitative","axis":null}
}
},
{
"data":{"values":[{"d":"2015-05-25","v":45.85}]},
"mark":{"type":"point","shape":"triangle-right","angle":347,"size":120,"filled":true,"color":"#000000","opacity":1},
"encoding":{
"x":{"field":"d","type":"temporal","axis":null},
"y":{"field":"v","type":"quantitative","axis":null}
}
},
{
"data":{"values":[
{"d":"2012-01-02","v":76.63,"t":"Maximum of the solar cycle"}
]},
"mark":{"type":"text","font":"Liberation Serif","fontWeight":"bold","fontSize":21.5,"color":"#000000","align":"center","baseline":"alphabetic"},
"encoding":{
"x":{"field":"d","type":"temporal","axis":null},
"y":{"field":"v","type":"quantitative","axis":null},
"text":{"field":"t"}
}
},
{
"data":{"values":[
{"d":"2014-12-08","v":42.85,"t":"Towards the solar minimum"}
]},
"mark":{"type":"text","font":"Liberation Serif","fontWeight":"bold","fontSize":21.5,"color":"#000000","align":"right","baseline":"alphabetic"},
"encoding":{
"x":{"field":"d","type":"temporal","axis":null},
"y":{"field":"v","type":"quantitative","axis":null},
"text":{"field":"t"}
}
}
]
}
